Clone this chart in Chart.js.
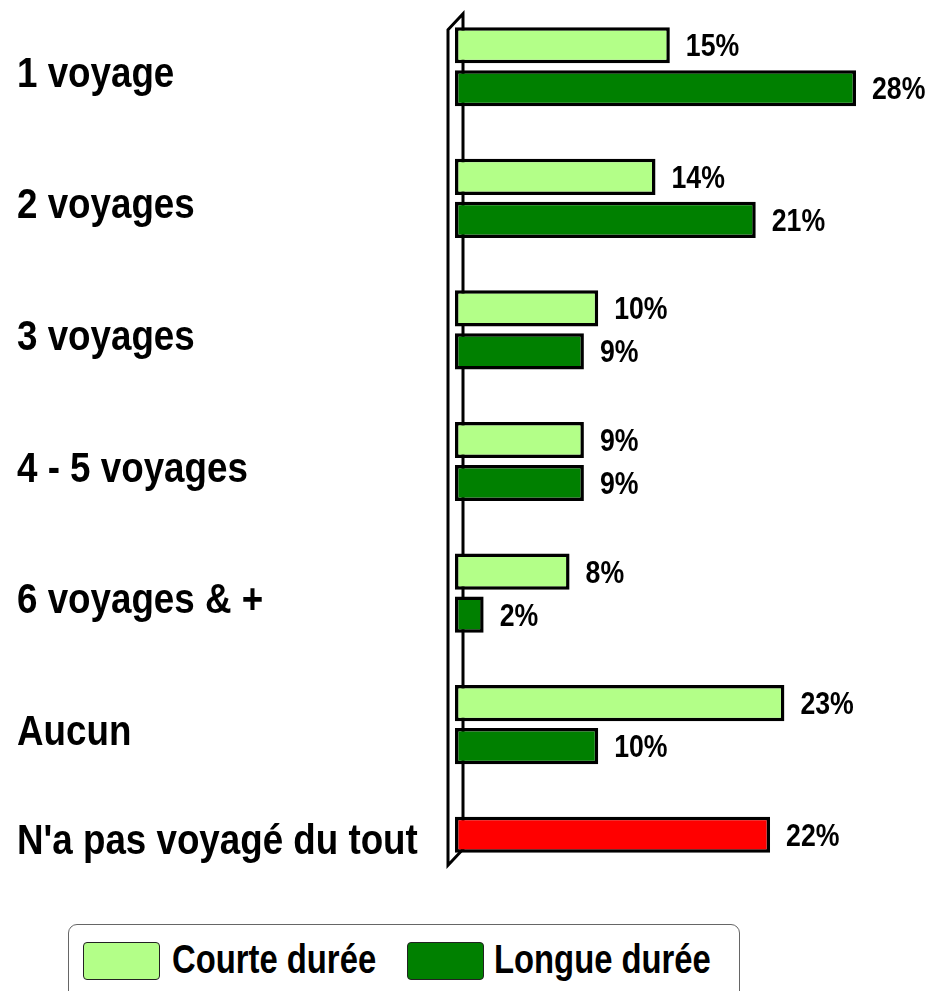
<!DOCTYPE html>
<html>
<head>
<meta charset="utf-8">
<script src="https://cdn.jsdelivr.net/npm/chart.js@4/dist/chart.umd.min.js"></script>
<style>
  html, body { margin: 0; padding: 0; background: #fff; overflow: hidden; width: 930px; height: 991px; }
  #wrap { position: absolute; left: 0; top: 0; width: 930px; height: 922px; }
  #legend { position: absolute; left: 68px; top: 924px; width: 672px; height: 90px;
    border: 1.5px solid #666; border-radius: 9px; box-sizing: border-box;
    font-family: 'Liberation Sans', Arial, sans-serif; font-weight: bold; font-size: 41px; color: #000; }
  .sw { position: absolute; top: 17px; width: 77px; height: 38px; border: 1.5px solid #222; border-radius: 4px; box-sizing: border-box; }
  .tx { position: absolute; top: 11px; line-height: 47px; white-space: nowrap; transform: scaleX(0.8); transform-origin: 0 50%; }
</style>
</head>
<body>
<div id="wrap"><canvas id="c" width="930" height="922"></canvas></div>
<div id="legend"></div>
<script>
const categories = ['1 voyage', '2 voyages', '3 voyages', '4 - 5 voyages', '6 voyages & +', 'Aucun', "N'a pas voyagé du tout"];
const courteDuree = [15, 14, 10, 9, 8, 23, null];
const longueDuree = [28, 21, 9, 9, 2, 10, null];
const pasVoyage   = [null, null, null, null, null, null, 22];
const seriesNames = ['Courte durée', 'Longue durée'];
const colors = { courte: '#b3ff88', longue: '#008000', pas: '#ff0000' };

const FONT = "'Liberation Sans', Arial, sans-serif";

function drawCondensed(ctx, text, x, y, font, sx) {
  ctx.save();
  ctx.font = font;
  ctx.translate(x, y);
  ctx.scale(sx, 1);
  ctx.fillText(text, 0, 0);
  ctx.restore();
}

const wallPlugin = {
  id: 'wall',
  beforeDatasetsDraw(chart) {
    const ctx = chart.ctx, y = chart.scales.y, left = chart.chartArea.left;
    const xF = left - 7, xB = left + 8;
    const topB = y.getPixelForValue(0) - 53, topF = topB + 16;
    const botF = y.getPixelForValue(categories.length - 1) + 9, botB = botF - 16;
    ctx.save();
    ctx.fillStyle = '#fff';
    ctx.beginPath();
    ctx.moveTo(xF, topF); ctx.lineTo(xB, topB); ctx.lineTo(xB, botB); ctx.lineTo(xF, botF); ctx.closePath();
    ctx.fill();
    ctx.strokeStyle = '#000'; ctx.lineWidth = 3; ctx.lineJoin = 'miter';
    ctx.stroke();
    ctx.restore();
  }
};

// Category labels, drawn at the y scale's category positions (condensed bold type)
const categoryLabelPlugin = {
  id: 'catLabels',
  afterDraw(chart) {
    const ctx = chart.ctx, y = chart.scales.y;
    ctx.save();
    ctx.fillStyle = '#000';
    ctx.textAlign = 'left';
    ctx.textBaseline = 'alphabetic';
    categories.forEach((c, i) => {
      let py;
      if (longueDuree[i] === null) {
        const meta = chart.getDatasetMeta(2);
        py = meta.data[i].y + 19;
      } else {
        py = y.getPixelForValue(i) + 20;
      }
      drawCondensed(ctx, c, y.left, py, 'bold 42px ' + FONT, 0.875);
    });
    ctx.restore();
  }
};

const valuePlugin = {
  id: 'values',
  afterDatasetsDraw(chart) {
    const ctx = chart.ctx;
    ctx.save();
    ctx.fillStyle = '#000';
    ctx.textAlign = 'left';
    ctx.textBaseline = 'alphabetic';
    chart.data.datasets.forEach((ds, di) => {
      const meta = chart.getDatasetMeta(di);
      meta.data.forEach((bar, i) => {
        const v = ds.data[i];
        if (v === null || v === undefined) return;
        drawCondensed(ctx, v + '%', bar.x + 16, bar.y + 11, 'bold 31px ' + FONT, 0.86);
      });
    });
    ctx.restore();
  }
};

const common = { borderColor: '#000', borderWidth: 3.5, borderSkipped: false, categoryPercentage: 0.654, barPercentage: 0.84 };

new Chart(document.getElementById('c'), {
  type: 'bar',
  data: {
    labels: categories,
    datasets: [
      Object.assign({ label: seriesNames[0], data: courteDuree, backgroundColor: colors.courte, stack: 'a' }, common),
      Object.assign({ label: seriesNames[1], data: longueDuree, backgroundColor: colors.longue, stack: 'b' }, common),
      Object.assign({ label: "N'a pas voyagé du tout", data: pasVoyage, backgroundColor: colors.pas, stack: 'a' }, common)
    ]
  },
  options: {
    indexAxis: 'y',
    responsive: false,
    animation: false,
    layout: { padding: { left: 17, right: 2.4, top: 1, bottom: 0 } },
    plugins: { legend: { display: false }, tooltip: { enabled: false } },
    scales: {
      x: { display: false, min: 0, max: 33 },
      y: {
        grid: { display: false },
        border: { display: false },
        ticks: { display: false },
        afterFit(scale) { scale.width = 438; }
      }
    }
  },
  plugins: [wallPlugin, valuePlugin, categoryLabelPlugin]
});

// HTML legend
const legend = document.getElementById('legend');
const swLefts = [14, 338];
const txLefts = [103, 425];
[colors.courte, colors.longue].forEach((col, i) => {
  const sw = document.createElement('div');
  sw.className = 'sw';
  sw.style.left = swLefts[i] + 'px';
  sw.style.background = col;
  const tx = document.createElement('div');
  tx.className = 'tx';
  tx.style.left = txLefts[i] + 'px';
  tx.textContent = seriesNames[i];
  legend.appendChild(sw); legend.appendChild(tx);
});
</script>
</body>
</html>
